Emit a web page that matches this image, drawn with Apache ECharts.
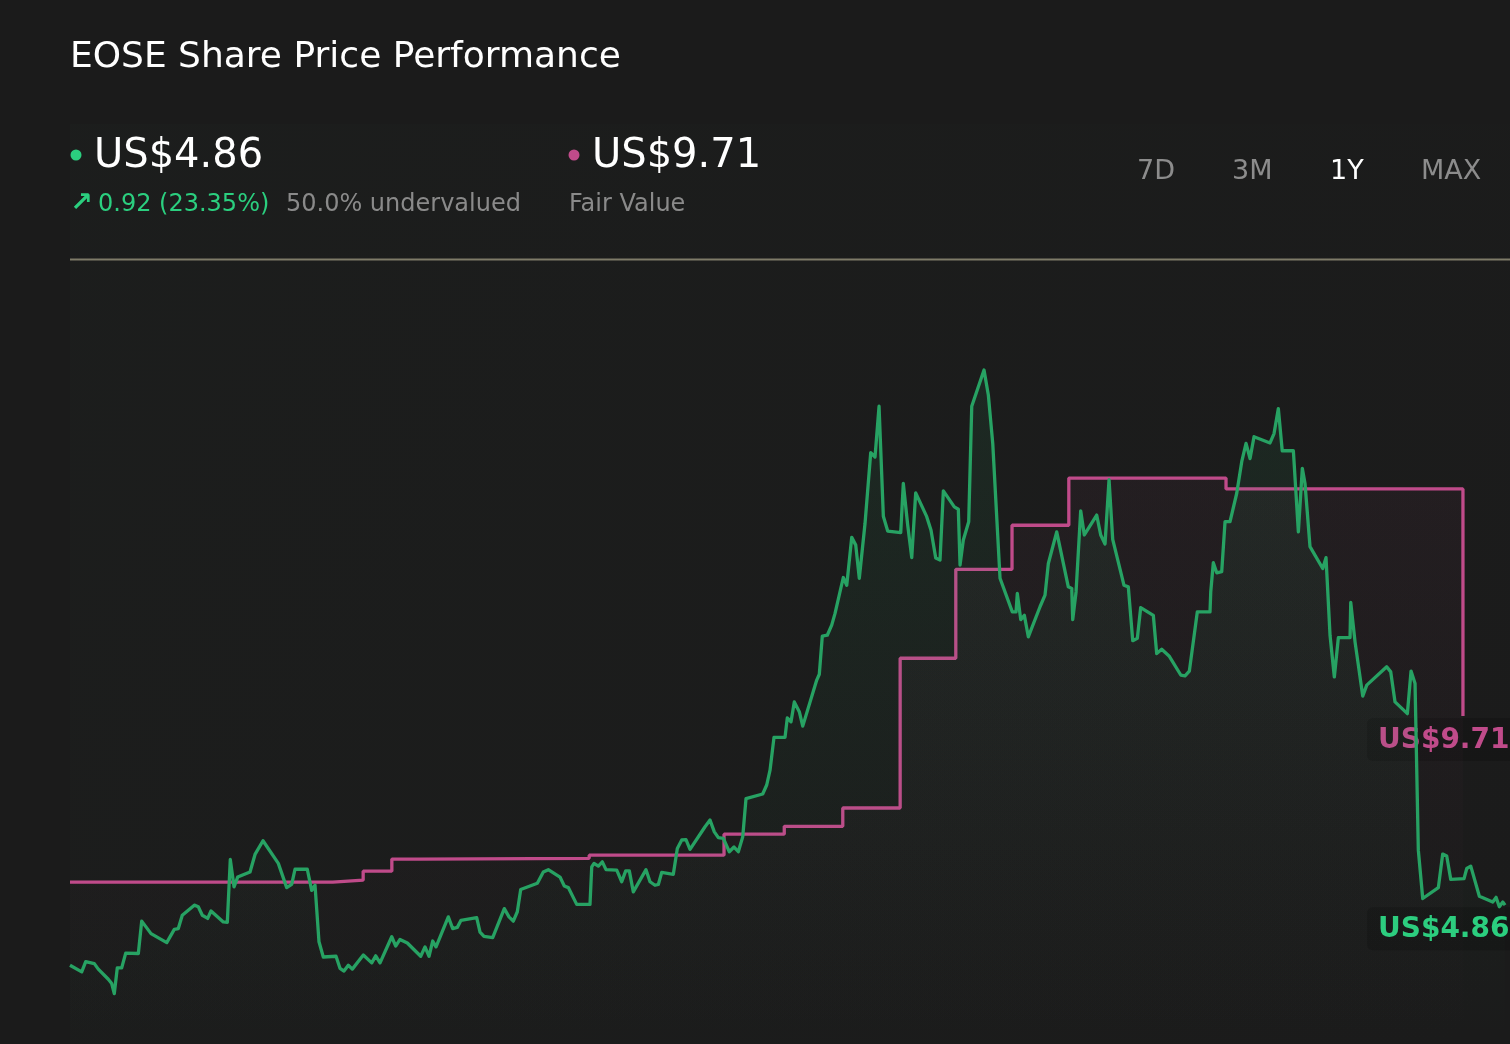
<!DOCTYPE html>
<html>
<head>
<meta charset="utf-8">
<script src="https://cdn.jsdelivr.net/npm/echarts@6/dist/echarts.min.js"></script>
<style>
html,body{margin:0;padding:0;background:#1b1b1b;}
#chart{width:1510px;height:1044px;}
</style>
</head>
<body>
<div id="chart"></div>
<script>
// ---- Data (x = trading day index over the last year, y = US$) ----
const priceDays = [0,2.04,2.74,4.24,4.93,6.68,7.27,7.72,8.24,9.01,9.71,11.91,12.50,14.12,16.86,18.18,18.88,19.57,21.67,22.36,23.06,24.00,24.58,26.72,27.42,27.94,28.59,29.23,31.38,32.25,33.64,36.31,37.77,38.64,39.22,41.36,42.13,42.71,43.40,44.15,46.37,47.06,47.76,48.51,49.21,51.13,52.59,53.29,54.04,56.08,56.77,57.52,58.80,61.13,61.88,62.58,63.22,63.80,65.94,66.71,67.51,68.15,70.89,71.47,72.16,73.68,75.70,76.52,77.27,77.97,78.56,81.46,82.50,83.37,85.41,86.16,86.86,88.32,90.64,90.94,91.34,92.09,92.79,93.43,95.30,96.17,96.86,97.49,98.19,100.40,101.10,101.97,102.55,103.14,105.16,105.86,106.63,107.37,108.07,110.69,111.56,112.31,113.01,113.88,114.92,115.74,116.49,117.26,117.83,120.74,121.44,122.02,122.71,124.63,125.03,125.68,126.25,127.12,127.72,130.16,130.61,131.13,132.00,132.77,133.35,134.79,135.39,136.26,136.96,137.58,138.58,139.57,140.32,141.02,141.77,142.53,144.80,145.25,146.02,146.72,147.41,149.33,150.08,150.90,151.65,152.23,154.14,154.84,155.14,155.71,156.65,157.18,159.32,160.07,160.84,162.11,164.25,164.90,165.12,165.72,166.35,167.04,169.08,169.95,170.53,171.99,174.01,174.61,174.78,175.36,176.17,176.80,178.96,179.66,180.41,181.11,181.75,183.72,184.47,185.24,186.04,186.63,188.83,189.42,190.29,191.57,193.61,194.36,195.11,196.50,198.71,198.84,199.29,199.88,200.75,201.33,202.20,203.37,204.24,204.99,205.69,206.38,209.17,209.87,210.62,211.30,213.24,214.11,214.80,215.27,216.14,218.36,218.93,219.63,220.38,221.08,223.12,223.24,223.99,225.33,226.03,229.51,230.21,230.96,233.11,233.75,234.45,235.02,235.79,238.51,239.27,239.97,240.67,242.99,243.46,244.16,245.66,247.99,248.57,249.14,249.74,250.14];
const priceValues = [3.32,3.15,3.41,3.36,3.22,2.96,2.85,2.59,3.25,3.25,3.63,3.62,4.45,4.13,3.90,4.24,4.26,4.60,4.86,4.82,4.60,4.52,4.71,4.43,4.42,6.03,5.33,5.58,5.71,6.16,6.51,5.93,5.31,5.39,5.78,5.78,5.24,5.37,3.92,3.53,3.55,3.24,3.17,3.32,3.22,3.58,3.38,3.56,3.38,4.05,3.81,3.98,3.89,3.55,3.79,3.55,3.94,3.79,4.56,4.26,4.29,4.47,4.54,4.17,4.06,4.03,4.77,4.56,4.45,4.69,5.26,5.42,5.71,5.77,5.58,5.35,5.31,4.88,4.88,5.84,5.93,5.86,5.97,5.77,5.76,5.46,5.74,5.74,5.20,5.77,5.46,5.37,5.39,5.70,5.65,6.31,6.53,6.54,6.29,6.87,7.04,6.74,6.59,6.57,6.23,6.35,6.23,6.61,7.59,7.71,7.94,8.32,9.16,9.16,9.66,9.56,10.07,9.82,9.45,10.63,10.78,11.76,11.78,12.04,12.34,13.26,13.06,14.29,14.09,13.24,14.65,16.46,16.35,17.65,14.83,14.45,14.41,15.67,14.60,13.77,15.43,14.82,14.47,13.76,13.71,15.48,15.07,15.01,13.58,14.22,14.69,17.65,18.58,17.94,16.70,13.24,12.38,12.38,12.85,12.18,12.29,11.74,12.51,12.81,13.62,14.43,13.02,12.98,12.18,12.89,14.97,14.35,14.86,14.35,14.12,15.77,14.24,13.06,13.02,11.64,11.70,12.49,12.29,11.31,11.42,11.25,10.76,10.74,10.86,12.38,12.38,12.89,13.64,13.38,13.41,14.69,14.69,15.42,16.23,16.70,16.31,16.87,16.71,16.95,17.59,16.51,16.51,14.43,16.06,15.67,14.05,13.49,13.77,11.78,10.71,11.72,11.72,12.62,11.61,10.22,10.50,10.97,10.84,10.07,9.77,10.86,10.54,6.27,5.03,5.31,6.17,6.12,5.52,5.54,5.80,5.86,5.09,4.94,5.06,4.82,4.94,4.86];
const fairDays = [0,45.8,51.1,56.1,61.0,90.5,114.0,124.5,134.7,144.7,154.4,164.2,174.1,201.5,242.8];
const fairValues = [5.45,5.50,5.73,6.04,6.06,6.14,6.68,6.88,7.35,11.19,13.47,14.60,15.81,15.53,9.71];

const titleText = 'EOSE Share Price Performance';
const priceText = 'US$4.86';
const changeText = '0.92 (23.35%)';
const valuationText = '50.0% undervalued';
const fairText = 'US$9.71';
const fairLabel = 'Fair Value';
const rangeButtons = ['7D','3M','1Y','MAX'];
const activeRange = '1Y';

const GREEN = '#2bcf7f';
const LINE_GREEN = '#27a263';
const PINK = '#c04b8a';
const FONT = '"DejaVu Sans", sans-serif';

const chart = echarts.init(document.getElementById('chart'), null, {renderer: 'canvas'});

const pricePts = priceDays.map((d, i) => [d, priceValues[i]]);
const fairPts = fairDays.map((d, i) => [d, fairValues[i]]);

chart.setOption({
  backgroundColor: '#1b1b1b',
  animation: false,
  grid: {left: 70, right: 0, top: 260, bottom: 0, containLabel: false},
  xAxis: {type: 'value', min: 0, max: 251, show: false},
  yAxis: {type: 'value', min: 1.3, max: 21.4, show: false, splitLine: {show: false}},
  series: [
    {
      name: 'Fair Value', type: 'line', step: 'end', data: fairPts,
      showSymbol: false, symbol: 'none',
      lineStyle: {color: PINK, width: 3.3},
      areaStyle: {color: new echarts.graphic.LinearGradient(0, 0, 0, 1, [
        {offset: 0, color: 'rgba(192,75,138,0.07)'},
        {offset: 1, color: 'rgba(192,75,138,0)'}
      ])},
      z: 2
    },
    {
      name: 'Price', type: 'line', data: pricePts,
      showSymbol: false, symbol: 'none',
      lineStyle: {color: LINE_GREEN, width: 3.3, join: 'round'},
      areaStyle: {color: new echarts.graphic.LinearGradient(0, 0, 0, 1, [
        {offset: 0, color: 'rgba(39,162,99,0.14)'},
        {offset: 1, color: 'rgba(39,162,99,0.0)'}
      ])},
      z: 3
    }
  ]
});

const lastPrice = chart.convertToPixel({gridIndex: 0}, pricePts[pricePts.length - 1]);
const lastFair = chart.convertToPixel({gridIndex: 0}, fairPts[fairPts.length - 1]);
const W = chart.getWidth();

function endLabel(text, color, yTop) {
  return {
    type: 'group', left: W - 143, top: yTop + 2, z: 50,
    children: [
      {type: 'rect', shape: {x: 0, y: 0, width: 170, height: 43, r: 6},
       style: {fill: 'rgba(20,20,20,0.6)'}},
      {type: 'text', x: 11, y: 23,
       style: {text: text, fill: color, font: 'bold 28px ' + FONT, verticalAlign: 'middle', align: 'left'}}
    ]
  };
}

const btnX = [1137, 1232, 1330, 1421];
const graphics = [
  {type: 'rect', z: -10, shape: {x: 70, y: 124, width: W - 70, height: 920},
   style: {fill: new echarts.graphic.LinearGradient(0, 0, 1, 1, [
     {offset: 0, color: 'rgba(40,60,50,0.07)'},
     {offset: 1, color: 'rgba(40,60,50,0)'}
   ])}, silent: true},
  {type: 'text', x: 70, y: 58, style: {text: titleText, fill: '#ffffff', font: '36px ' + FONT, verticalAlign: 'middle'}},
  {type: 'circle', shape: {cx: 76, cy: 155, r: 5.5}, style: {fill: GREEN}},
  {type: 'text', x: 94, y: 157, style: {text: priceText, fill: '#ffffff', font: '40px ' + FONT, verticalAlign: 'middle'}},
  {type: 'text', x: 70, y: 204, style: {text: '\u2197', fill: GREEN, font: 'bold 27px ' + FONT, verticalAlign: 'middle'}},
  {type: 'text', x: 98, y: 205, style: {text: changeText, fill: GREEN, font: '24px ' + FONT, verticalAlign: 'middle'}},
  {type: 'text', x: 286, y: 205, style: {text: valuationText, fill: '#8a8a8a', font: '24px ' + FONT, verticalAlign: 'middle'}},
  {type: 'circle', shape: {cx: 574, cy: 155, r: 5.5}, style: {fill: PINK}},
  {type: 'text', x: 592, y: 157, style: {text: fairText, fill: '#ffffff', font: '40px ' + FONT, verticalAlign: 'middle'}},
  {type: 'text', x: 569, y: 205, style: {text: fairLabel, fill: '#8a8a8a', font: '24px ' + FONT, verticalAlign: 'middle'}},
  {type: 'line', shape: {x1: 70, y1: 259.5, x2: W, y2: 259.5}, style: {stroke: '#7e7b68', lineWidth: 2}},
  endLabel(fairText, PINK, lastFair[1]),
  endLabel(priceText, GREEN, lastPrice[1])
];
rangeButtons.forEach((b, i) => {
  graphics.push({type: 'text', x: btnX[i], y: 172,
    style: {text: b, fill: b === activeRange ? '#ffffff' : '#8c8c8c', font: '27px ' + FONT, verticalAlign: 'middle'}});
});
chart.setOption({graphic: graphics});
</script>
</body>
</html>
